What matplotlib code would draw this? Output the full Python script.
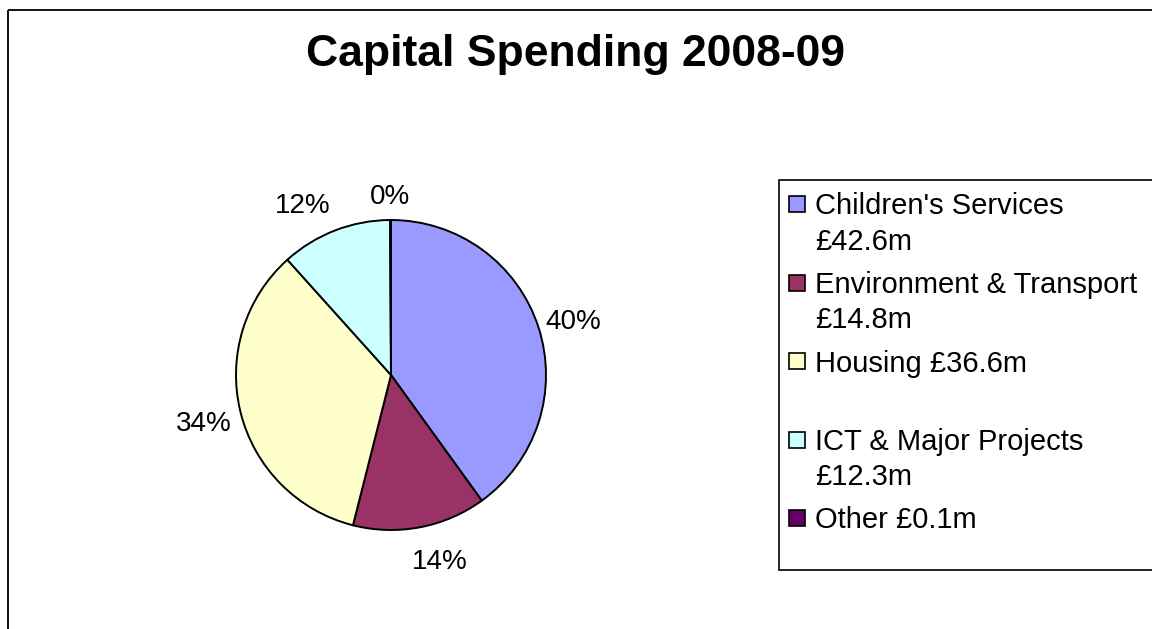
import matplotlib
matplotlib.use("Agg")
import matplotlib.pyplot as plt
import matplotlib.transforms as mtransforms
from matplotlib.patches import Rectangle
import numpy as np

plt.rcParams['font.family'] = ['Liberation Sans', 'DejaVu Sans']

# ---- data ----
title = "Capital Spending 2008-09"
categories = ["Children's Services\n£42.6m", "Environment & Transport\n£14.8m",
              "Housing £36.6m", "ICT & Major Projects\n£12.3m", "Other £0.1m"]
values = [42.6, 14.8, 36.6, 12.3, 0.1]
colors = ["#9999FF", "#993366", "#FFFFCC", "#CCFFFF", "#660066"]
# label placement (style): radial distance and angular nudge in degrees
label_dist = [1.23, 1.23, 1.245, 1.25, 1.17]
label_nudge = [-1, 4, 0, 6, 0]

W, H = 1152, 629
fig = plt.figure(figsize=(W / 100, H / 100), dpi=100)
px = mtransforms.Affine2D().scale(1 / W, -1 / H).translate(0, 1) + fig.transFigure

# outer frame
fig.patches.append(Rectangle((8, 10), 1300, 800, transform=px, fill=False,
                             edgecolor='black', linewidth=1.3))

fig.text(576, 66, title, transform=px, ha='center', va='baseline',
         fontsize=32, fontweight='bold')

# pie
cx, cy, r = 391, 254, 155
ax = fig.add_axes([(cx - r) / W, (cy - r) / H, 2 * r / W, 2 * r / H])
wedges, _ = ax.pie(values, colors=colors, startangle=90, counterclock=False,
                   radius=1, wedgeprops=dict(edgecolor='black', linewidth=1.4))
ax.set_xlim(-1, 1)
ax.set_ylim(-1, 1)
ax.set_aspect('auto')
ax.axis('off')
total = sum(values)
for w, v, d, n in zip(wedges, values, label_dist, label_nudge):
    ang = np.deg2rad((w.theta1 + w.theta2) / 2 + n)
    ax.text(d * np.cos(ang), d * np.sin(ang), f"{100 * v / total:.0f}%",
            ha='center', va='center_baseline', fontsize=20, clip_on=False)

# legend (manual, Excel style)
fig.patches.append(Rectangle((779, 180), 500, 390, transform=px, facecolor='white',
                             edgecolor='black', linewidth=1.2))
y0, pitch, line_h = 204, 78.5, 35
for i, (lab, col) in enumerate(zip(categories, colors)):
    yc = y0 + pitch * i
    fig.patches.append(Rectangle((789, yc - 8), 16, 16, transform=px,
                                 facecolor=col, edgecolor='black', linewidth=1.2))
    for j, line in enumerate(lab.split("\n")):
        fig.text(815, yc + j * line_h + 10.5, line, transform=px, ha='left',
                 va='baseline', fontsize=21)

fig.savefig("out.png", dpi=100)
